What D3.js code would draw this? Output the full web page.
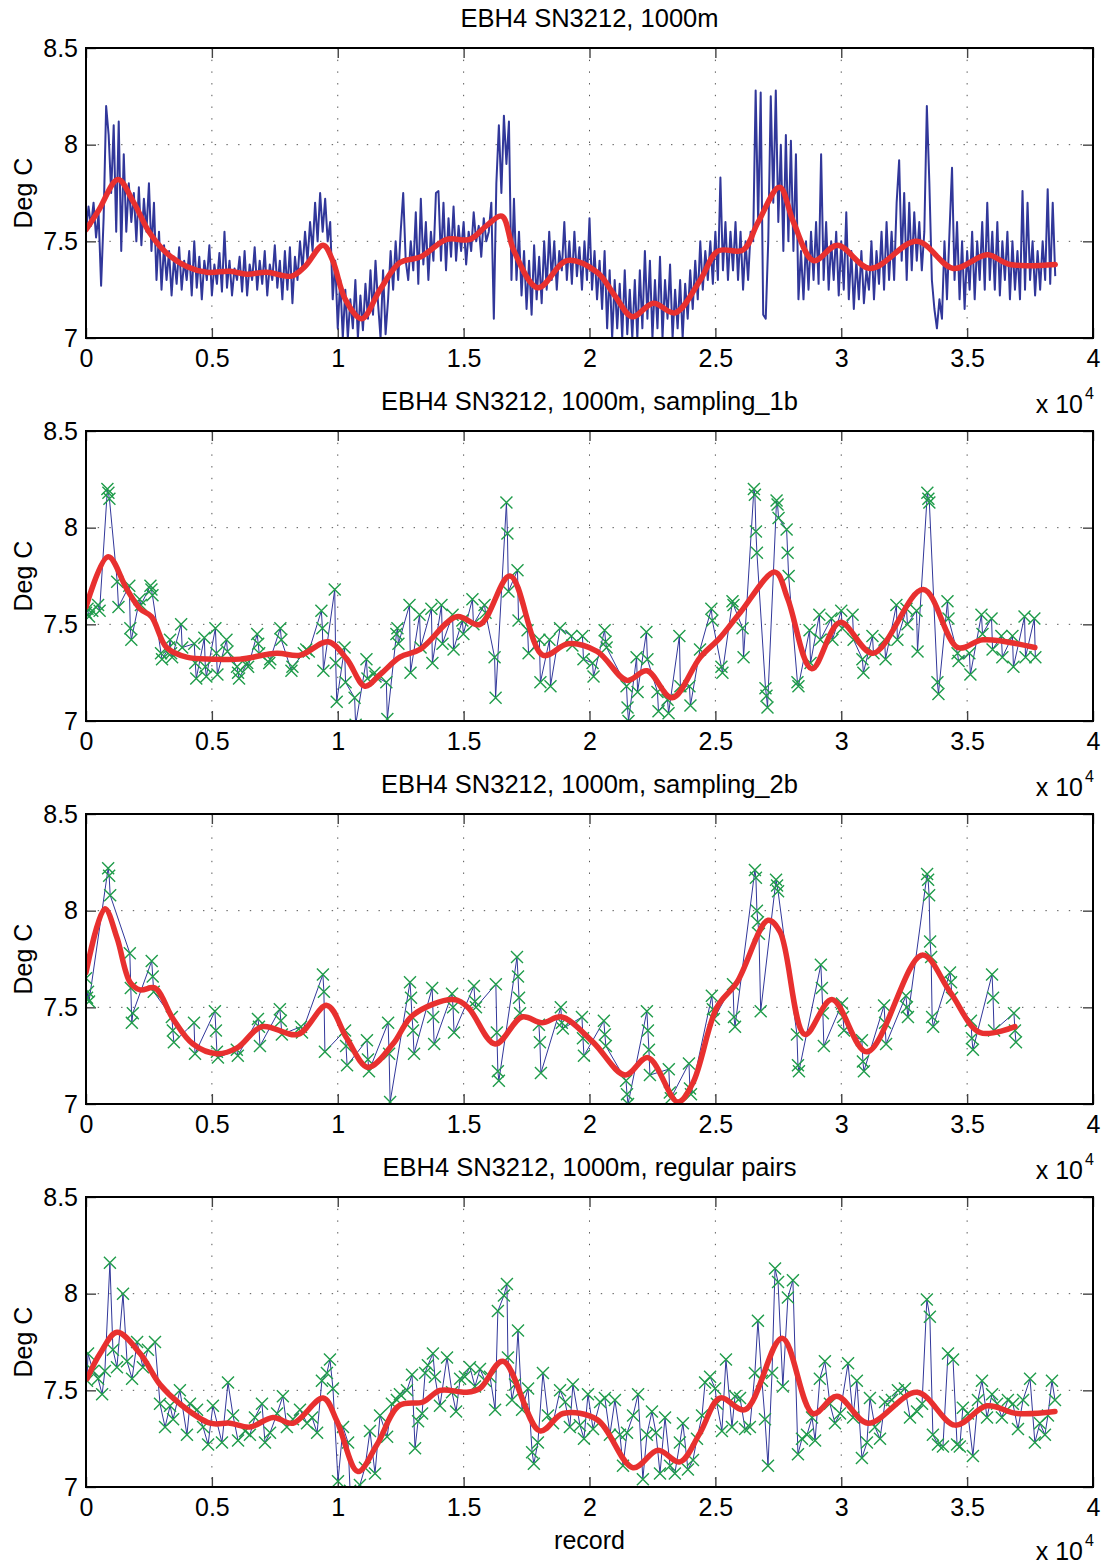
<!DOCTYPE html>
<html>
<head>
<meta charset="utf-8">
<script src="https://cdn.jsdelivr.net/npm/d3@7"></script>
<style>
body { margin: 0; background: #fff; }
text { font-family: "Liberation Sans", Arial, Helvetica, sans-serif; fill: #000; }
</style>
</head>
<body>
<div id="chart"></div>
<script>
// ---- data ----
const titles = [
  "EBH4 SN3212, 1000m",
  "EBH4 SN3212, 1000m, sampling_1b",
  "EBH4 SN3212, 1000m, sampling_2b",
  "EBH4 SN3212, 1000m, regular pairs"
];
const xTicks = [0, 5000, 10000, 15000, 20000, 25000, 30000, 35000, 40000];
const yTicks = [7, 7.5, 8, 8.5];

// full record, one value every 100 records
const rawStep = 100;
const rawTemp = [
  7.55,7.68,7.58,7.7,7.52,7.64,7.27,7.62,8.2,8.05,7.75,8.1,7.55,8.12,7.45,7.95,7.55,7.8,7.6,7.75,
  7.5,7.78,7.48,7.72,7.55,7.8,7.45,7.7,7.3,7.55,7.25,7.48,7.3,7.45,7.22,7.42,7.28,7.47,7.25,7.4,
  7.3,7.45,7.22,7.5,7.26,7.42,7.2,7.4,7.3,7.48,7.22,7.38,7.28,7.44,7.24,7.55,7.26,7.4,7.22,7.36,
  7.3,7.42,7.24,7.45,7.22,7.38,7.3,7.47,7.25,7.4,7.28,7.45,7.22,7.38,7.3,7.48,7.26,7.4,7.2,7.45,
  7.25,7.47,7.18,7.42,7.3,7.5,7.35,7.55,7.4,7.6,7.45,7.7,7.5,7.75,7.55,7.72,7.5,7.6,7.2,7.4,
  7.05,7.3,7.0,7.25,7.0,7.2,7.05,7.3,7.0,7.22,7.04,7.28,7.1,7.35,7.12,7.4,7.18,7.0,7.35,7.02,
  7.2,7.45,7.25,7.5,7.3,7.55,7.75,7.4,7.3,7.5,7.35,7.65,7.28,7.72,7.38,7.6,7.3,7.55,7.4,7.75,
  7.76,7.4,7.7,7.35,7.62,7.42,7.68,7.4,7.58,7.45,7.6,7.38,7.55,7.45,7.65,7.5,7.58,7.42,7.62,7.5,
  7.55,7.7,7.1,7.8,8.1,7.75,8.15,7.9,8.12,7.3,7.72,7.3,7.55,7.22,7.45,7.15,7.4,7.12,7.48,7.2,
  7.42,7.18,7.5,7.25,7.55,7.3,7.5,7.25,7.45,7.35,7.6,7.3,7.5,7.28,7.55,7.32,7.47,7.25,7.5,7.3,
  7.62,7.25,7.45,7.2,7.4,7.15,7.45,7.05,7.35,7.0,7.3,7.05,7.28,7.0,7.35,7.02,7.25,7.0,7.3,7.0,
  7.35,7.05,7.45,7.1,7.4,7.0,7.3,7.05,7.42,7.0,7.3,7.1,7.38,7.0,7.25,7.05,7.3,7.0,7.28,7.1,
  7.35,7.15,7.4,7.2,7.5,7.25,7.45,7.3,7.5,7.28,7.55,7.3,7.83,7.35,7.6,7.3,7.55,7.35,7.6,7.3,
  7.55,7.25,7.5,7.3,7.55,7.5,8.28,7.6,8.27,7.12,7.1,7.5,8.25,7.7,8.28,7.6,8.0,7.45,8.05,7.5,
  8.02,7.45,7.95,7.2,7.45,7.2,7.5,7.25,7.55,7.3,7.6,7.28,7.95,7.3,7.6,7.25,7.5,7.3,7.55,7.22,
  7.5,7.25,7.65,7.2,7.45,7.15,7.4,7.2,7.45,7.18,7.35,7.25,7.5,7.2,7.45,7.28,7.55,7.25,7.6,7.3,
  7.55,7.3,7.7,7.92,7.4,7.75,7.3,7.7,7.35,7.65,7.4,7.6,7.35,7.55,8.2,7.8,7.3,7.15,7.05,7.2,
  7.1,7.5,7.2,7.55,7.88,7.3,7.6,7.2,7.5,7.15,7.45,7.25,7.55,7.2,7.5,7.3,7.6,7.25,7.7,7.3,
  7.55,7.25,7.6,7.22,7.5,7.3,7.55,7.2,7.5,7.25,7.45,7.2,7.76,7.25,7.7,7.3,7.5,7.22,7.45,7.25,
  7.5,7.3,7.77,7.28,7.7,7.32
];
const rawFit = [[0,7.56],[500,7.66],[1270,7.82],[1900,7.7],[2500,7.55],[3200,7.44],[4000,7.37],[4800,7.34],
  [5720,7.345],[6390,7.33],[7180,7.34],[8170,7.32],[8700,7.37],[9420,7.48],[9800,7.4],[10300,7.2],[10950,7.1],
  [11680,7.25],[12470,7.39],[13300,7.42],[14330,7.51],[15250,7.51],[15900,7.58],[16520,7.63],[17000,7.45],
  [17950,7.26],[19100,7.4],[20300,7.34],[21000,7.22],[21700,7.11],[22530,7.18],[23400,7.13],[24400,7.3],
  [25100,7.45],[26100,7.455],[26700,7.6],[27550,7.78],[28100,7.6],[28900,7.4],[29850,7.48],[31150,7.36],
  [33000,7.5],[34450,7.36],[35800,7.43],[36700,7.38],[38500,7.38]];

// sampling_1b: [record, temp]
const s1bSamples = [[0,7.56],[60,7.58],[120,7.54],[250,7.57],[480,7.6],[540,7.57],[850,8.2],[890,8.18],[930,8.15],
  [1240,7.72],[1290,7.59],[1720,7.7],[1760,7.48],[1800,7.42],[2130,7.63],[2180,7.6],[2560,7.7],[2600,7.68],[2640,7.65],
  [2980,7.35],[3020,7.32],[3300,7.38],[3340,7.42],[3380,7.35],[3420,7.33],[3780,7.5],[3820,7.38],[4300,7.4],[4340,7.3],
  [4380,7.22],[4700,7.43],[4740,7.28],[4780,7.23],[5140,7.48],[5180,7.35],[5220,7.24],[5580,7.42],[5620,7.36],
  [6000,7.28],[6040,7.25],[6080,7.22],[6400,7.3],[6440,7.28],[6800,7.45],[6840,7.4],[6880,7.35],[7280,7.3],[7320,7.32],
  [7720,7.48],[7760,7.42],[8160,7.26],[8200,7.28],[8650,7.35],[8750,7.37],[8850,7.36],[9350,7.57],[9390,7.48],[9430,7.26],
  [9880,7.68],[9920,7.3],[9960,7.1],[10270,7.38],[10310,7.2],[10670,7.12],[10710,6.98],[11140,7.32],[11180,7.22],
  [11460,7.25],[11500,7.23],[11930,7.2],[11970,7.01],[12330,7.45],[12370,7.48],[12410,7.4],[12850,7.6],[12890,7.25],
  [13250,7.55],[13290,7.38],[13720,7.58],[13760,7.3],[14120,7.6],[14160,7.4],[14560,7.55],[14600,7.37],[14950,7.52],
  [14990,7.45],[15350,7.63],[15390,7.5],[15830,7.6],[15870,7.56],[16230,7.33],[16270,7.12],[16700,8.13],[16740,7.97],
  [16780,7.67],[17140,7.78],[17180,7.52],[17540,7.47],[17580,7.35],[18010,7.42],[18050,7.2],[18410,7.42],[18450,7.18],
  [18830,7.48],[19280,7.44],[19320,7.39],[19720,7.44],[19760,7.32],[20120,7.3],[20160,7.23],[20600,7.47],[20640,7.41],
  [20680,7.38],[21470,7.18],[21510,7.07],[21550,7.0],[21870,7.33],[21910,7.15],[22260,7.46],[22300,7.32],[22700,7.15],
  [22740,7.05],[23100,7.11],[23140,7.04],[23570,7.44],[23610,7.18],[23970,7.18],[24010,7.08],[24390,7.37],[24840,7.58],
  [24880,7.52],[25240,7.28],[25280,7.25],[25680,7.62],[25720,7.6],[26080,7.48],[26120,7.33],[26530,8.2],[26570,8.17],
  [26610,7.98],[26650,7.87],[26990,7.17],[27030,7.13],[27070,7.07],[27430,8.14],[27470,8.12],[27510,8.05],[27830,7.99],
  [27870,7.87],[27910,7.75],[28260,7.2],[28300,7.18],[28740,7.47],[28780,7.3],[29130,7.55],[29170,7.42],[29610,7.53],
  [29650,7.42],[30000,7.57],[30040,7.48],[30450,7.55],[30490,7.42],[30840,7.32],[30880,7.25],[31240,7.44],[31280,7.35],
  [31720,7.42],[31760,7.32],[32190,7.6],[32230,7.42],[32590,7.58],[32630,7.5],[32990,7.57],[33030,7.36],[33420,8.18],
  [33460,8.15],[33500,8.13],[33820,7.2],[33860,7.14],[34220,7.62],[34260,7.53],[34620,7.35],[34660,7.31],[35090,7.35],
  [35130,7.24],[35570,7.55],[35610,7.45],[35970,7.53],[36010,7.37],[36360,7.44],[36400,7.33],[36800,7.44],[36840,7.28],
  [37280,7.54],[37320,7.33],[37670,7.53],[37710,7.33]];
const s1bFit = [[0,7.59],[880,7.85],[1630,7.68],[2150,7.58],[2600,7.54],[3200,7.38],[4000,7.33],[5050,7.32],[6120,7.32],
  [7580,7.35],[8500,7.34],[9620,7.41],[10360,7.32],[11080,7.18],[11680,7.24],[12470,7.33],[13270,7.37],[14730,7.54],
  [15650,7.5],[16840,7.75],[18150,7.34],[19150,7.4],[20300,7.36],[21490,7.21],[22280,7.26],[23280,7.12],[24400,7.33],
  [25180,7.43],[25980,7.56],[27370,7.77],[27880,7.63],[28830,7.27],[29950,7.51],[31260,7.35],[33250,7.68],[34630,7.38],
  [35630,7.42],[37690,7.38]];

// sampling_2b
const s2bSamples = [[0,7.65],[40,7.55],[80,7.58],[120,7.53],[880,8.22],[920,8.18],[960,8.08],[1740,7.78],[1780,7.6],
  [1820,7.42],[1860,7.47],[2610,7.74],[2650,7.66],[2690,7.58],[3410,7.45],[3450,7.38],[3490,7.32],[4290,7.42],[4330,7.26],
  [5120,7.48],[5160,7.38],[5200,7.27],[5240,7.24],[5990,7.28],[6030,7.25],[6830,7.44],[6870,7.4],[6910,7.3],[7700,7.49],
  [7740,7.43],[7780,7.36],[8540,7.4],[8580,7.37],[9410,7.67],[9450,7.58],[9490,7.27],[10290,7.38],[10330,7.3],[10370,7.2],
  [11160,7.33],[11200,7.23],[11240,7.17],[12000,7.42],[12040,7.26],[12080,7.01],[12870,7.63],[12910,7.55],[12950,7.45],
  [12990,7.38],[13030,7.26],[13750,7.6],[13790,7.45],[13830,7.31],[14540,7.57],[14580,7.5],[14620,7.37],[15410,7.61],
  [15450,7.53],[15490,7.5],[16280,7.62],[16320,7.37],[16360,7.17],[16400,7.12],[17120,7.76],[17160,7.66],[17200,7.55],
  [17240,7.47],[17990,7.41],[18030,7.32],[18070,7.16],[18860,7.5],[18900,7.42],[18940,7.39],[19700,7.45],[19740,7.34],
  [19780,7.25],[20570,7.43],[20610,7.36],[20650,7.3],[21450,7.12],[21490,7.05],[21530,7.0],[22280,7.48],[22320,7.38],
  [22360,7.28],[22400,7.15],[23150,7.18],[23190,7.06],[23230,7.03],[23950,7.21],[23990,7.08],[24030,7.05],[24860,7.56],
  [24900,7.49],[24940,7.44],[25700,7.62],[25740,7.45],[25780,7.4],[26570,8.21],[26610,8.17],[26650,8.0],[26690,7.94],
  [26730,7.88],[26800,7.48],[27410,8.16],[27450,8.13],[27490,8.1],[28240,7.36],[28280,7.2],[28320,7.17],[29190,7.72],
  [29230,7.6],[29270,7.47],[29310,7.3],[30030,7.52],[30070,7.45],[30110,7.38],[30820,7.33],[30860,7.22],[30900,7.17],
  [31700,7.51],[31740,7.42],[31780,7.31],[32570,7.56],[32610,7.5],[32650,7.45],[33410,8.19],[33450,8.16],[33490,8.08],
  [33530,7.84],[33570,7.76],[33610,7.45],[33650,7.4],[34320,7.68],[34360,7.63],[34400,7.55],[35150,7.43],[35190,7.34],
  [35230,7.28],[35990,7.67],[36030,7.55],[36070,7.38],[36860,7.47],[36900,7.38],[36940,7.32]];
const s2bFit = [[0,7.68],[750,8.01],[1230,7.86],[1750,7.63],[2150,7.59],[2740,7.6],[3460,7.44],[4250,7.31],[5200,7.26],
  [6000,7.29],[6990,7.4],[8420,7.36],[9570,7.51],[10360,7.34],[11200,7.19],[12190,7.31],[12990,7.46],[14580,7.54],
  [15170,7.5],[16250,7.31],[17320,7.45],[18110,7.42],[18900,7.45],[20140,7.32],[21410,7.15],[22320,7.24],[23510,7.01],
  [24110,7.11],[25060,7.5],[25860,7.63],[27090,7.95],[27570,7.89],[28560,7.36],[29630,7.54],[31020,7.27],[33210,7.77],
  [34320,7.58],[35510,7.37],[36900,7.4]];

// regular pairs
const pairSamples = [[40,7.55],[80,7.69],[280,7.6],[480,7.56],[640,7.48],[750,7.6],[950,8.16],[1070,7.71],[1230,7.62],
  [1470,8.0],[1630,7.65],[1830,7.56],[2030,7.75],[2260,7.62],[2460,7.71],[2740,7.75],[2940,7.43],[3140,7.31],[3340,7.42],
  [3460,7.35],[3730,7.5],[4010,7.27],[4130,7.43],[4410,7.4],[4650,7.31],[4850,7.22],[5040,7.42],[5400,7.23],[5640,7.54],
  [5840,7.37],[6040,7.24],[6320,7.29],[6510,7.27],[6710,7.36],[6990,7.43],[7110,7.23],[7310,7.28],[7590,7.38],[7820,7.47],
  [7980,7.31],[8220,7.35],[8500,7.4],[8780,7.33],[8980,7.36],[9180,7.28],[9370,7.55],[9570,7.59],[9690,7.66],[9810,7.51],
  [10010,7.03],[10210,7.31],[10410,7.23],[10490,6.98],[10880,7.01],[11080,7.1],[11280,7.29],[11480,7.07],[11680,7.37],
  [11960,7.26],[12150,7.43],[12350,7.45],[12470,7.48],[12750,7.5],[12950,7.58],[13070,7.2],[13190,7.34],[13350,7.38],
  [13470,7.59],[13580,7.63],[13780,7.69],[13860,7.57],[14060,7.42],[14340,7.67],[14540,7.49],[14700,7.39],[14860,7.56],
  [15050,7.57],[15250,7.62],[15450,7.52],[15650,7.61],[15850,7.55],[16050,7.57],[16250,7.4],[16360,7.91],[16600,7.99],
  [16720,8.05],[16760,7.67],[16920,7.45],[17040,7.53],[17160,7.81],[17320,7.4],[17560,7.51],[17720,7.18],[17790,7.12],
  [17950,7.23],[18150,7.59],[18350,7.37],[18550,7.33],[18830,7.5],[19030,7.44],[19220,7.31],[19340,7.53],[19620,7.32],
  [19780,7.25],[19940,7.48],[20140,7.3],[20420,7.44],[20610,7.46],[20810,7.27],[21010,7.45],[21210,7.27],[21330,7.11],
  [21490,7.28],[21730,7.37],[21930,7.48],[22120,7.04],[22280,7.27],[22480,7.39],[22640,7.28],[22800,7.07],[23000,7.36],
  [23200,7.11],[23390,7.07],[23590,7.23],[23710,7.33],[23910,7.09],[24110,7.14],[24270,7.25],[24470,7.37],[24590,7.54],
  [24790,7.57],[24990,7.51],[25060,7.43],[25260,7.29],[25420,7.66],[25660,7.31],[25780,7.47],[25980,7.46],[26180,7.3],
  [26370,7.31],[26570,7.59],[26690,7.86],[26850,7.55],[26970,7.35],[27090,7.11],[27250,7.59],[27370,8.13],[27490,8.06],
  [27680,7.52],[27880,7.98],[28080,8.07],[28280,7.17],[28440,7.25],[28640,7.27],[28840,7.36],[28960,7.24],[29150,7.56],
  [29350,7.65],[29550,7.43],[29750,7.33],[29950,7.38],[30270,7.64],[30470,7.36],[30620,7.55],[30820,7.15],[31020,7.23],
  [31140,7.46],[31340,7.31],[31540,7.25],[31740,7.44],[32010,7.45],[32250,7.5],[32530,7.51],[32730,7.36],[33010,7.39],
  [33210,7.43],[33400,7.97],[33520,7.88],[33640,7.27],[33840,7.22],[34040,7.21],[34240,7.69],[34440,7.66],[34600,7.22],
  [34710,7.21],[34830,7.41],[35030,7.38],[35230,7.16],[35430,7.45],[35590,7.55],[35790,7.36],[35990,7.48],[36190,7.43],
  [36380,7.36],[36620,7.45],[36820,7.43],[37020,7.3],[37220,7.45],[37500,7.56],[37690,7.23],[37890,7.33],[38090,7.27],
  [38210,7.37],[38370,7.55],[38490,7.45]];
const pairFit = [[40,7.56],[560,7.69],[1230,7.8],[2150,7.69],[2940,7.53],[3730,7.43],[4930,7.33],[5720,7.33],[6510,7.31],
  [7430,7.36],[8220,7.33],[9420,7.46],[9970,7.34],[10800,7.08],[11560,7.22],[12430,7.42],[13390,7.44],[14060,7.5],
  [15130,7.49],[15650,7.51],[16560,7.65],[18030,7.29],[18950,7.38],[20290,7.35],[21730,7.1],[22720,7.19],[23590,7.13],
  [24390,7.28],[25180,7.46],[26180,7.4],[27650,7.77],[28880,7.38],[29830,7.47],[31060,7.33],[33010,7.49],[34520,7.32],
  [35790,7.42],[36980,7.38],[38490,7.39]];

// ---- layout ----
const W = 1105, H = 1564;
const plotLeft = 86, plotRight = 1093, plotH = 290;
const panelTops = [48, 431, 814, 1197];
const blue = "#31379a", red = "#e8302f", green = "#1f9c4a";
const font = '"Liberation Sans", Arial, Helvetica, sans-serif';

const rawSeries = rawTemp.map((v, i) => [i * rawStep, v]);
const panels = [
  { title: titles[0], line: rawSeries, marks: null, fit: rawFit, lw: 2 },
  { title: titles[1], line: s1bSamples, marks: s1bSamples, fit: s1bFit, lw: 1 },
  { title: titles[2], line: s2bSamples, marks: s2bSamples, fit: s2bFit, lw: 1 },
  { title: titles[3], line: pairSamples, marks: pairSamples, fit: pairFit, lw: 1 }
];

const svg = d3.select("#chart").append("svg")
  .attr("width", W).attr("height", H)
  .style("background", "#fff");

const x = d3.scaleLinear().domain([0, 40000]).range([plotLeft, plotRight]);

panels.forEach((p, k) => {
  const top = panelTops[k], bottom = top + plotH;
  const y = d3.scaleLinear().domain([7, 8.5]).range([bottom, top]);
  const g = svg.append("g");

  svg.append("clipPath").attr("id", "clip" + k)
    .append("rect").attr("x", plotLeft).attr("y", top)
    .attr("width", plotRight - plotLeft).attr("height", plotH);

  // dotted grid
  g.append("g").selectAll("line").data(xTicks.slice(1, -1)).join("line")
    .attr("x1", d => x(d)).attr("x2", d => x(d)).attr("y1", top).attr("y2", bottom)
    .attr("stroke", "#555").attr("stroke-width", 1).attr("stroke-dasharray", "1.4,10.3");
  g.append("g").selectAll("line").data(yTicks.slice(1, -1)).join("line")
    .attr("y1", d => y(d)).attr("y2", d => y(d)).attr("x1", plotLeft).attr("x2", plotRight)
    .attr("stroke", "#555").attr("stroke-width", 1).attr("stroke-dasharray", "1.4,10.3");

  // axes, inward ticks on all four sides
  const fmtX = d => String(d / 1e4);
  const axB = g.append("g").attr("transform", `translate(0,${bottom})`)
    .call(d3.axisBottom(x).tickValues(xTicks).tickFormat(fmtX).tickSizeInner(-10).tickSizeOuter(0).tickPadding(11));
  const axT = g.append("g").attr("transform", `translate(0,${top})`)
    .call(d3.axisTop(x).tickValues(xTicks).tickFormat("").tickSizeInner(-10).tickSizeOuter(0));
  const axL = g.append("g").attr("transform", `translate(${plotLeft},0)`)
    .call(d3.axisLeft(y).tickValues(yTicks).tickFormat(d => String(d)).tickSizeInner(-10).tickSizeOuter(0).tickPadding(8));
  const axR = g.append("g").attr("transform", `translate(${plotRight},0)`)
    .call(d3.axisRight(y).tickValues(yTicks).tickFormat("").tickSizeInner(-10).tickSizeOuter(0));
  [axB, axT, axL, axR].forEach(a => {
    a.select(".domain").remove();
    a.selectAll(".tick line").attr("stroke", "#444").attr("stroke-width", 1.4);
    a.selectAll("text").attr("font-size", 25).attr("fill", "#000").style("font-family", font);
  });

  // data
  const plot = g.append("g").attr("clip-path", `url(#clip${k})`);
  plot.append("path").datum(p.line)
    .attr("fill", "none").attr("stroke", blue).attr("stroke-width", p.lw).attr("stroke-linejoin", "round")
    .attr("d", d3.line().x(d => x(d[0])).y(d => y(d[1])));

  if (p.marks) {
    plot.append("g").selectAll("path").data(p.marks).join("path")
      .attr("transform", d => `translate(${x(d[0])},${y(d[1])})`)
      .attr("d", "M-6,-6L6,6M-6,6L6,-6")
      .attr("fill", "none").attr("stroke", green).attr("stroke-width", 1.4);
  }

  plot.append("path").datum(p.fit)
    .attr("fill", "none").attr("stroke", red).attr("stroke-width", 5.5).attr("stroke-linecap", "round")
    .attr("d", d3.line().curve(d3.curveCatmullRom.alpha(0.5)).x(d => x(d[0])).y(d => y(d[1])));

  // box
  g.append("rect").attr("x", plotLeft).attr("y", top)
    .attr("width", plotRight - plotLeft).attr("height", plotH)
    .attr("fill", "none").attr("stroke", "#000").attr("stroke-width", 2);

  // labels
  g.append("text").attr("x", (plotLeft + plotRight) / 2).attr("y", top - 21)
    .attr("text-anchor", "middle").attr("font-size", 25.5).text(p.title);

  g.append("text").attr("transform", `translate(32,${(top + bottom) / 2}) rotate(-90)`)
    .attr("text-anchor", "middle").attr("font-size", 25).text("Deg C");

  const expY = k < 3 ? bottom + 75 : bottom + 73;
  g.append("text").attr("x", 1083).attr("y", expY).attr("text-anchor", "end")
    .attr("font-size", 25).text("x 10");
  g.append("text").attr("x", 1085).attr("y", expY - 14).attr("font-size", 16).text("4");
});

svg.append("text").attr("x", (plotLeft + plotRight) / 2).attr("y", panelTops[3] + plotH + 62)
  .attr("text-anchor", "middle").attr("font-size", 25).text("record");
</script>
</body>
</html>
